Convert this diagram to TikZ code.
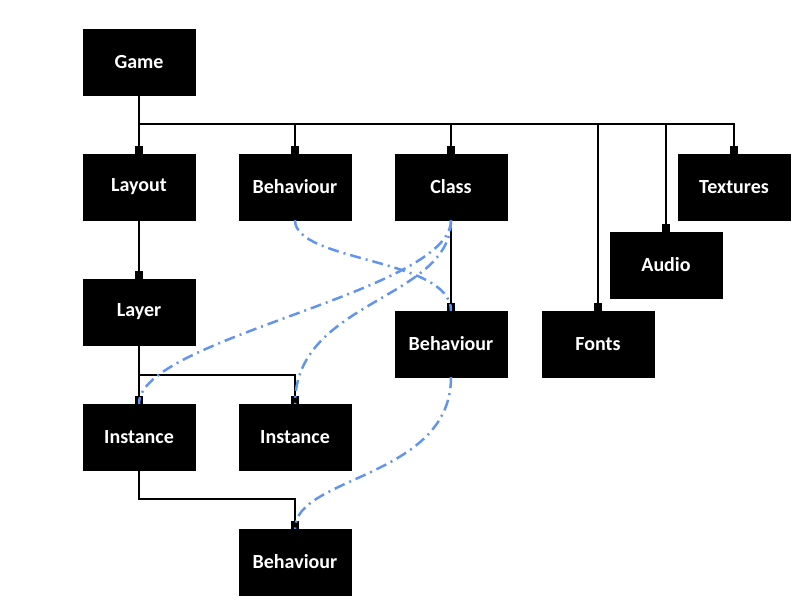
\documentclass[tikz,border=0pt]{standalone}
\usepackage{fontspec}
\setmainfont{Carlito}
\usetikzlibrary{arrows.meta}
\definecolor{linkblue}{RGB}{100,149,237}
\tikzset{
  box/.style={rectangle, fill=black, draw=black, text=white, minimum width=112pt, minimum height=66pt, inner sep=0pt, font=\fontsize{20}{24}\selectfont\bfseries},
  tree/.style={line width=1.8pt, -{Square[length=8pt,width=8pt]}},
  link/.style={linkblue, line width=2.5pt, dash pattern=on 11pt off 5pt on 2pt off 5pt}
}
\begin{document}
\begin{tikzpicture}[x=1pt,y=-1pt]
\useasboundingbox (0,0) rectangle (800,600);
\node[box] (game) at (139,62) {Game};
\node[box] (layout) at (139,187) {Layout};
\node[box] (beh1) at (295,187) {Behaviour};
\node[box] (class) at (451,187) {Class};
\node[box] (textures) at (734,187) {Textures};
\node[box] (audio) at (666,265) {Audio};
\node[box] (fonts) at (598,344) {Fonts};
\node[box] (beh2) at (451,344) {Behaviour};
\node[box] (layer) at (139,312) {Layer};
\node[box] (inst1) at (139,437) {Instance};
\node[box] (inst2) at (295,437) {Instance};
\node[box] (beh3) at (295,562) {Behaviour};
% tree connectors
\draw[tree] (game.south) -- (layout.north);
\draw[tree] (game.south) -- ++(0,29) -| (beh1.north);
\draw[tree] (game.south) -- ++(0,29) -| (class.north);
\draw[tree] (game.south) -- ++(0,29) -| (fonts.north);
\draw[tree] (game.south) -- ++(0,29) -| (audio.north);
\draw[tree] (game.south) -- ++(0,29) -| (textures.north);
\draw[tree] (layout.south) -- (layer.north);
\draw[tree] (class.south) -- (beh2.north);
\draw[tree] (layer.south) -- (inst1.north);
\draw[tree] (layer.south) -- ++(0,30) -| (inst2.north);
\draw[tree] (inst1.south) -- ++(0,29) -| (beh3.north);
% blue links
\draw[link] (beh1.south) .. controls (295,262) and (451,258) .. (beh2.north);
\draw[link] (class.south) .. controls (451,292) and (139,338) .. (inst1.north);
\draw[link] (class.south) .. controls (451,300) and (295,300) .. (inst2.north);
\draw[link] (beh2.south) .. controls (451,478) and (295,476) .. (beh3.north);
\end{tikzpicture}
\end{document}
